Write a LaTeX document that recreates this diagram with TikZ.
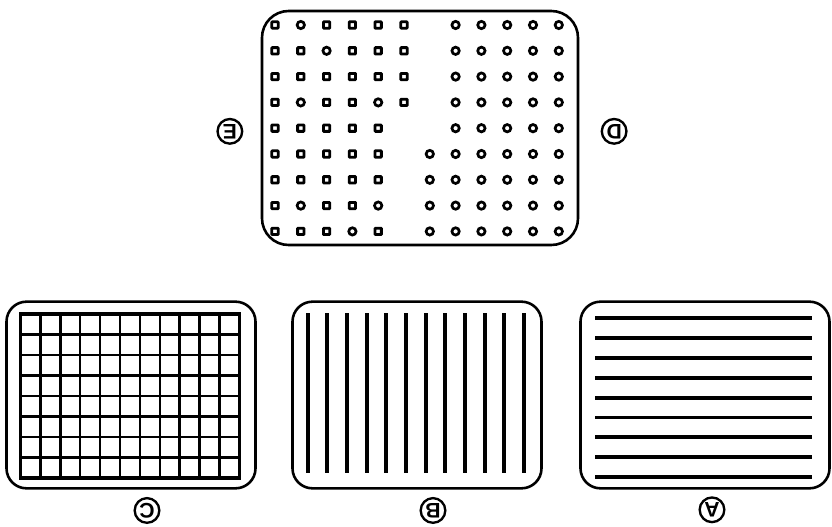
\documentclass[tikz,border=0pt]{standalone}
\usepackage{fontspec}
\setsansfont{Liberation Sans}
\usetikzlibrary{positioning}
\newcommand{\upsidedown}[1]{\rotatebox[origin=c]{180}{#1}}

\begin{document}
\begin{tikzpicture}[
  x=0.03cm, y=-0.03cm,
  node distance=0.3cm,
  screen/.style={rectangle, draw, line width=2.2pt, minimum width=7.47cm,
                 minimum height=5.6cm, rounded corners=0.6cm, inner sep=0pt},
  bigscreen/.style={screen, minimum width=9.48cm, minimum height=7.02cm,
                    rounded corners=0.8cm},
  tag/.style={circle, draw, line width=2pt, minimum size=0.74cm, inner sep=0pt,
              font=\fontsize{18}{18}\selectfont\sffamily\bfseries},
  sqdot/.style={rectangle, draw, line width=2.4pt, minimum size=0.19cm,
                inner sep=0pt, rounded corners=0.5pt},
  cidot/.style={circle, draw, line width=2.3pt, minimum size=0.22cm, inner sep=0pt},
  nodot/.style={inner sep=0pt, minimum size=0pt},
  bar/.style={line width=3.3pt}
]
  \useasboundingbox (0,0) rectangle (832,527);

  % screens
  \node[bigscreen] (scrE) at (420,128) {};
  \node[screen] (scrC) at (131,395) {};
  \node[screen] (scrB) at (417,395) {};
  \node[screen] (scrA) at (705,395) {};

  % labels (printed upside down)
  \node[tag, left=0.52cm of scrE, yshift=-0.1cm] (tagE) {\upsidedown{E}};
  \node[tag, right=0.64cm of scrE, yshift=-0.1cm] (tagD) {\upsidedown{D}};
  \node[tag, below=0.22cm of scrC, xshift=0.48cm] (tagC) {\upsidedown{C}};
  \node[tag, below=0.22cm of scrB, xshift=0.48cm] (tagB) {\upsidedown{B}};
  \node[tag, below=0.2cm of scrA, xshift=0.21cm] (tagA) {\upsidedown{A}};

  % D/E: squares and rings
  \foreach \row [count=\r] in {
      {sqdot,cidot,sqdot,sqdot,sqdot,sqdot,nodot,cidot,cidot,cidot,cidot,cidot},
      {sqdot,sqdot,cidot,sqdot,sqdot,sqdot,nodot,cidot,cidot,cidot,cidot,cidot},
      {sqdot,sqdot,sqdot,sqdot,sqdot,sqdot,nodot,cidot,cidot,cidot,cidot,cidot},
      {sqdot,cidot,sqdot,sqdot,cidot,sqdot,nodot,cidot,cidot,cidot,cidot,cidot},
      {sqdot,sqdot,sqdot,sqdot,sqdot,nodot,nodot,cidot,cidot,cidot,cidot,cidot},
      {sqdot,sqdot,sqdot,sqdot,sqdot,nodot,cidot,cidot,cidot,cidot,cidot,cidot},
      {sqdot,sqdot,sqdot,sqdot,sqdot,nodot,cidot,cidot,cidot,cidot,cidot,cidot},
      {sqdot,cidot,sqdot,sqdot,cidot,nodot,cidot,cidot,cidot,cidot,cidot,cidot},
      {sqdot,sqdot,sqdot,cidot,sqdot,nodot,cidot,cidot,cidot,cidot,cidot,cidot}}
    \foreach \kind [count=\c] in \row
      \node[\kind] (d-\r-\c) at ({275+25.8*(\c-1)},{25+25.8*(\r-1)}) {};

  % C: grid
  \foreach \i in {0,...,11}
    \draw[line width=2pt] ({20.7+19.87*\i},314) -- ({20.7+19.87*\i},478);
  \foreach \j in {0,...,8}
    \draw[line width=2pt] (20.7,{314+20.5*\j}) -- (239.3,{314+20.5*\j});
  \draw[line width=2.8pt] (20.7,314) rectangle (239.3,478);

  % B: vertical bars
  \foreach \i in {0,...,11}
    \draw[bar] ({307.7+19.67*\i},313) -- ({307.7+19.67*\i},473);

  % A: horizontal bars
  \foreach \j in {0,...,8}
    \draw[bar] (595,{318+19.9*\j}) -- (812,{318+19.9*\j});
\end{tikzpicture}
\end{document}
